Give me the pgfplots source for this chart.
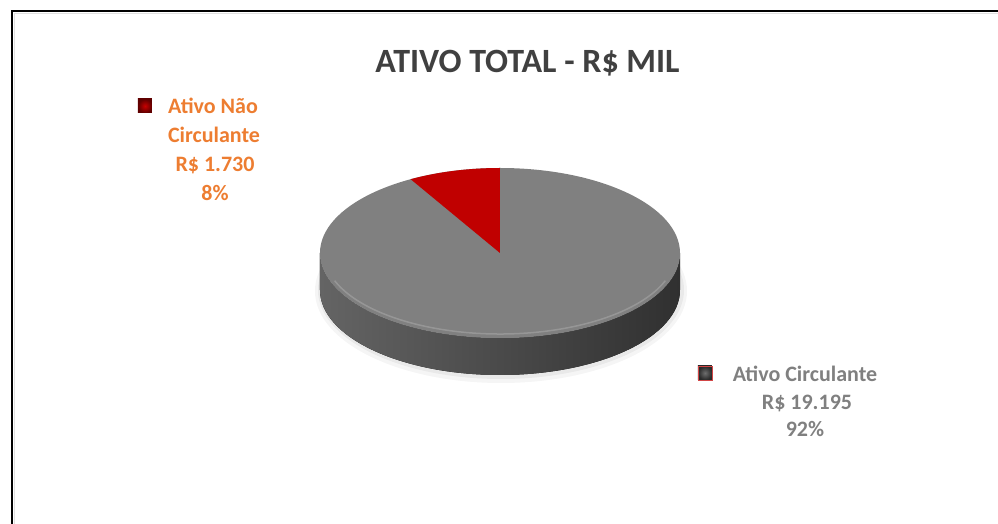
\documentclass[border=0pt]{standalone}
\usepackage{pgfplots}
\usepackage{pgfplotstable}
\pgfplotsset{compat=1.18}
\usepackage{fontspec}
\setmainfont{Carlito}
\definecolor{pgray}{RGB}{128,128,128}
\definecolor{pred}{RGB}{192,0,0}
\definecolor{ttl}{RGB}{64,64,64}
\definecolor{lorange}{RGB}{237,125,49}
\definecolor{lgray}{RGB}{128,128,128}
\definecolor{sideL}{RGB}{100,100,100}
\definecolor{sideR}{RGB}{48,48,48}
\definecolor{keyRin}{RGB}{200,0,0}
\definecolor{keyRout}{RGB}{95,0,0}
\definecolor{keyGin}{RGB}{110,110,110}
\definecolor{keyGout}{RGB}{40,40,40}
\definecolor{keyGbd}{RGB}{210,70,70}
\pgfplotstableread{
label value
Circulante 19195
NaoCirculante 1730
}\piedata
\begin{document}
\begin{tikzpicture}
\path[use as bounding box] (0,0) rectangle (998bp,524bp);
\pgfplotstablegetelem{0}{value}\of\piedata \let\va\pgfplotsretval
\pgfplotstablegetelem{1}{value}\of\piedata \let\vb\pgfplotsretval
\pgfkeys{/pgf/fpu=true,/pgf/fpu/output format=fixed}
\pgfmathsetmacro{\endang}{90+360*\vb/(\va+\vb)}
\pgfkeys{/pgf/fpu=false}
\begin{axis}[width=998bp, height=524bp, scale only axis,
  xmin=0, xmax=998, ymin=0, ymax=524, hide axis, clip=false]
% frame
\draw[black!12, line width=1.2bp] (axis cs:14.6,0) -- (axis cs:14.6,510.4) -- (axis cs:998,510.4);
\draw[black, line width=2.2bp] (axis cs:12.4,0) -- (axis cs:12.4,512.7) -- (axis cs:998,512.7);
% title
\node[anchor=base, text=ttl, font=\fontsize{34bp}{40bp}\selectfont\bfseries] at (axis cs:527.5,451) {ATIVO TOTAL - R\$ MIL};
% shadow
\fill[black, opacity=0.04] (axis cs:501,233) ellipse [x radius=186bp, y radius=92bp];
\fill[black, opacity=0.05] (axis cs:501,234) ellipse [x radius=183bp, y radius=89bp];
% side
\fill[left color=sideL, right color=sideR]
  (axis cs:320,271) arc[start angle=180, end angle=360, x radius=180bp, y radius=85bp]
  -- ++(0,-37bp) arc[start angle=360, end angle=180, x radius=180bp, y radius=85bp] -- cycle;
% top
\fill[pgray] (axis cs:500,271) ellipse [x radius=180bp, y radius=85bp];
% red slice
\fill[pred] (axis cs:500,271) -- +(0,85bp) arc[start angle=90, end angle=\endang, x radius=180bp, y radius=85bp] -- cycle;
% rim highlight
\draw[white, opacity=0.18, line width=1.5bp] (axis cs:500,271) ++(200:176bp and 81bp) arc[start angle=200, end angle=340, x radius=176bp, y radius=81bp];
% label 1
\shade[inner color=keyRin, outer color=keyRout] (axis cs:138,411) rectangle (axis cs:152,425);
\begin{scope}[every node/.style={anchor=base, text=lorange, font=\fontsize{22bp}{26bp}\selectfont\bfseries}]
\node at (axis cs:213,410) {Ativo Não};
\node at (axis cs:214,381) {Circulante};
\node at (axis cs:215,352) {R\$ 1.730};
\node at (axis cs:215,323) {8\%};
\end{scope}
% label 2
\shade[inner color=keyGin, outer color=keyGout] (axis cs:698,144) rectangle (axis cs:712,158);
\draw[keyGbd, line width=0.9bp] (axis cs:698,144) rectangle (axis cs:712,158);
\begin{scope}[every node/.style={anchor=base, text=lgray, font=\fontsize{22bp}{26bp}\selectfont\bfseries}]
\node at (axis cs:805,142) {Ativo Circulante};
\node at (axis cs:807,114) {R\$ 19.195};
\node at (axis cs:805,87) {92\%};
\end{scope}
\end{axis}
\end{tikzpicture}
\end{document}
